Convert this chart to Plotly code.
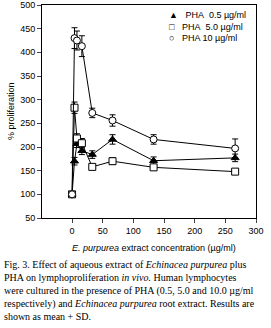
import plotly.graph_objects as go

# Data
conc = [0, 4, 8, 16, 33, 66, 133, 266]
pha05 = [100, 170, 207, 192, 184, 216, 171, 177]
pha05_sd = [0, 8, 8, 8, 8, 10, 8, 8]
pha5 = [100, 283, 218, 208, 158, 170, 157, 148]
pha5_sd = [0, 12, 10, 10, 5, 7, 5, 5]
pha10 = [100, 430, 425, 413, 272, 256, 216, 197]
pha10_sd = [0, 22, 20, 22, 10, 12, 10, 20]
names = ["PHA&nbsp;&nbsp;0.5 µg/ml", "PHA&nbsp;&nbsp;5.0 µg/ml", "PHA 10 µg/ml"]
legend_symbols = ["▲", "□", "○"]
xticks = [0, 50, 100, 150, 200, 250, 300]
yticks = [50, 100, 150, 200, 250, 300, 350, 400, 450, 500]

W, H = 271, 328
PL, PR, PT, PB = 42, 256, 5, 218   # plot box in pixels

def xp(px):
    return px / W

def yp(py):
    return 1 - py / H

fig = go.Figure()
series = [
    (pha05, pha05_sd, "triangle-up", "black"),
    (pha5, pha5_sd, "square", "white"),
    (pha10, pha10_sd, "circle", "white"),
]
for (vals, sd, sym, fill), nm in zip(series, names):
    fig.add_trace(go.Scatter(
        x=conc, y=vals, mode="lines+markers", showlegend=False,
        line=dict(color="black", width=1),
        marker=dict(symbol=sym, size=7, color=fill, line=dict(color="black", width=1)),
        error_y=dict(type="data", array=sd, color="black", thickness=1, width=3),
        cliponaxis=False,
    ))

axfont = dict(family="Liberation Sans, Arial", size=9, color="black")
fig.update_xaxes(range=[-49, 300], tickvals=xticks, ticks="outside", ticklen=4,
                 showline=True, linecolor="black", linewidth=1, mirror=True,
                 showgrid=False, zeroline=False, tickfont=axfont, automargin=False,
                 domain=[xp(PL), xp(PR)])
fig.update_yaxes(range=[50, 500], tickvals=yticks, ticks="outside", ticklen=4,
                 showline=True, linecolor="black", linewidth=1, mirror=True,
                 showgrid=False, zeroline=False, tickfont=axfont, automargin=False,
                 domain=[yp(PB), yp(PT)])

ann = []
ann.append(dict(text="% proliferation", textangle=-90, x=xp(11), y=yp(111),
                xref="paper", yref="paper", xanchor="center", yanchor="middle",
                showarrow=False, font=axfont))
ann.append(dict(text="<i>E. purpurea</i> extract concentration (µg/ml)", x=xp(154), y=yp(248),
                xref="paper", yref="paper", xanchor="center", yanchor="middle",
                showarrow=False, font=axfont))

legend_text = "<br>".join(f"{s}&nbsp;&nbsp;&nbsp;{n}" for s, n in zip(legend_symbols, names))
ann.append(dict(text=legend_text, x=xp(167), y=yp(8), xref="paper", yref="paper",
                xanchor="left", yanchor="top", align="left", showarrow=False,
                font=axfont))

caption = [
    "Fig. 3. Effect of aqueous extract of <i>Echinacea purpurea</i> plus",
    "PHA on lymphoproliferation <i>in vivo.</i> Human lymphocytes",
    "were cultured in the presence of PHA (0.5, 5.0 and 10.0 µg/ml",
    "respectively) and <i>Echinacea purpurea</i> root extract. Results are",
    "shown as mean + SD.",
]
ann.append(dict(text="<br>".join(caption), x=xp(2), y=yp(257), xref="paper", yref="paper",
                xanchor="left", yanchor="top", align="left", showarrow=False,
                font=dict(family="Liberation Serif, Times New Roman", size=10, color="black")))

fig.update_layout(
    width=W, height=H, margin=dict(l=0, r=0, t=0, b=0, pad=0, autoexpand=False),
    plot_bgcolor="white", paper_bgcolor="white",
    annotations=ann, showlegend=False,
)
fig.write_html("out.html")
